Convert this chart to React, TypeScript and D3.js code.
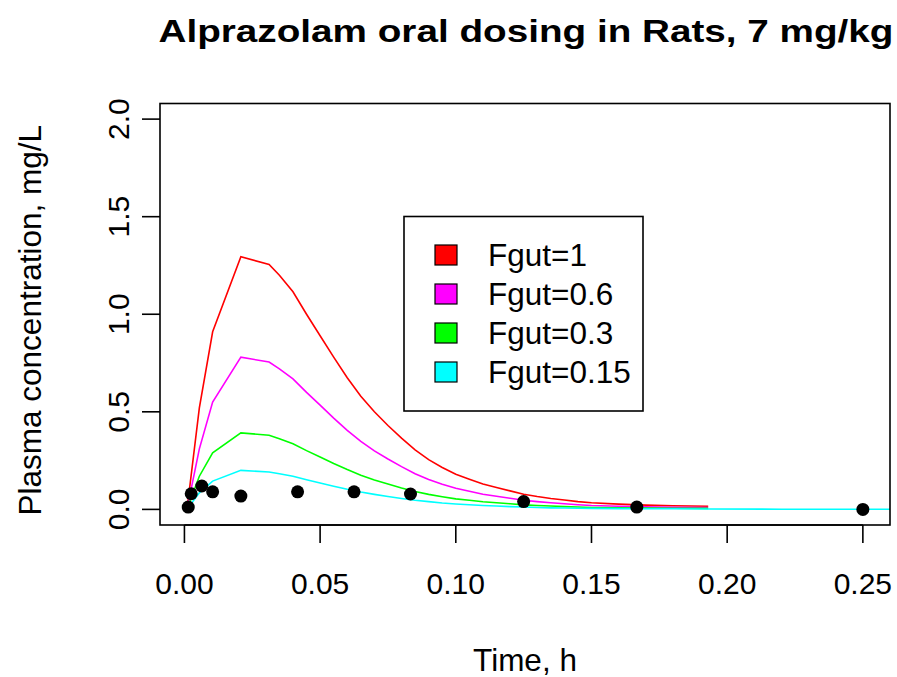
import React from "react";
import * as d3 from "d3";

const times = [0.001, 0.0055, 0.0104, 0.0208, 0.0312, 0.035, 0.04, 0.045, 0.05, 0.055, 0.06, 0.065, 0.07, 0.075, 0.08, 0.085, 0.09, 0.095, 0.10, 0.105, 0.11, 0.115, 0.12, 0.125, 0.13, 0.135, 0.14, 0.145, 0.15, 0.16, 0.17, 0.18, 0.193];
const fgut1 = [0.005, 0.52, 0.91, 1.295, 1.255, 1.2, 1.115, 1.0, 0.89, 0.78, 0.675, 0.58, 0.50, 0.43, 0.365, 0.305, 0.255, 0.215, 0.18, 0.155, 0.13, 0.112, 0.095, 0.078, 0.066, 0.056, 0.048, 0.040, 0.034, 0.027, 0.022, 0.019, 0.016];
const fgut06 = [0.004, 0.31, 0.55, 0.78, 0.755, 0.72, 0.669, 0.6, 0.534, 0.468, 0.405, 0.348, 0.30, 0.258, 0.219, 0.183, 0.153, 0.129, 0.108, 0.093, 0.078, 0.067, 0.057, 0.047, 0.040, 0.034, 0.029, 0.024, 0.020, 0.016, 0.013, 0.011, 0.010];
const fgut03 = [0.003, 0.17, 0.29, 0.392, 0.38, 0.362, 0.336, 0.301, 0.268, 0.235, 0.204, 0.175, 0.151, 0.13, 0.11, 0.092, 0.077, 0.065, 0.054, 0.047, 0.039, 0.034, 0.029, 0.023, 0.020, 0.017, 0.014, 0.012, 0.010, 0.008, 0.007, 0.006, 0.005];
const timesCyan = [...times, 0.22, 0.25, 0.275];
const fgut015 = [0.002, 0.085, 0.145, 0.2, 0.192, 0.183, 0.17, 0.152, 0.135, 0.119, 0.103, 0.089, 0.077, 0.066, 0.056, 0.047, 0.04, 0.033, 0.028, 0.024, 0.02, 0.017, 0.014, 0.012, 0.010, 0.008, 0.007, 0.006, 0.005, 0.004, 0.003, 0.003, 0.002, 0.001, 0.001, 0.001];

const obsTime = [0.0014, 0.0025, 0.0064, 0.0104, 0.0208, 0.0417, 0.0625, 0.0833, 0.125, 0.1667, 0.25];
const obsConc = [0.012, 0.08, 0.12, 0.09, 0.068, 0.09, 0.09, 0.079, 0.04, 0.012, 0.0];

const legendLabels = ["Fgut=1", "Fgut=0.6", "Fgut=0.3", "Fgut=0.15"];
const colors = ["#ff0000", "#ff00ff", "#00ff00", "#00ffff"];
const xTicks = [0, 0.05, 0.1, 0.15, 0.2, 0.25];
const yTicks = [0, 0.5, 1, 1.5, 2];

const W = 897, H = 677;
const left = 160, right = 890, top = 103.5, bottom = 525;
const FONT = "'Liberation Sans', Arial, sans-serif";

export default function App() {
  const x = d3.scaleLinear().domain([-0.009, 0.26]).range([left, right]);
  const y = d3.scaleLinear().domain([-0.08, 2.08]).range([bottom, top]);
  const series = [
    { t: times, v: fgut1 },
    { t: times, v: fgut06 },
    { t: times, v: fgut03 },
    { t: timesCyan, v: fgut015 },
  ];
  const line = d3.line<[number, number]>().x(d => x(d[0])).y(d => y(d[1]));
  const legX = 404, legY = 216.5, legW = 239, legH = 194.5;
  return (
    <svg width={W} height={H} style={{ position: "absolute", left: 0, top: 0, background: "#fff" }}>
      <rect x={0} y={0} width={W} height={H} fill="#fff" />
      <text x={(left + right) / 2 + 1} y={42} textAnchor="middle" fontFamily={FONT} fontWeight="bold" fontSize={31.5} textLength={735} lengthAdjust="spacingAndGlyphs">Alprazolam oral dosing in Rats, 7 mg/kg</text>
      <defs>
        <clipPath id="plotclip"><rect x={left} y={top} width={right - left} height={bottom - top} /></clipPath>
      </defs>
      <g clipPath="url(#plotclip)">
        {series.map((s, i) => (
          <path key={i} d={line(s.t.map((t, j) => [t, s.v[j]]) as [number, number][]) || ""} fill="none" stroke={colors[i]} strokeWidth={1.6} />
        ))}
        {obsTime.map((t, i) => (
          <circle key={i} cx={x(t)} cy={y(obsConc[i])} r={6.5} fill="#000" />
        ))}
      </g>
      <rect x={left} y={top} width={right - left} height={bottom - top} fill="none" stroke="#000" strokeWidth={1.6} />
      {xTicks.map((t, i) => (
        <g key={i}>
          <line x1={x(t)} x2={x(t)} y1={bottom} y2={bottom + 18} stroke="#000" strokeWidth={1.6} />
          <text x={x(t)} y={594} textAnchor="middle" fontFamily={FONT} fontSize={30}>{t.toFixed(2)}</text>
        </g>
      ))}
      <line x1={x(0)} x2={x(0.25)} y1={bottom} y2={bottom} stroke="#000" strokeWidth={1.6} />
      {yTicks.map((v, i) => (
        <g key={i}>
          <line x1={left - 18} x2={left} y1={y(v)} y2={y(v)} stroke="#000" strokeWidth={1.6} />
          <text transform={`translate(129,${y(v)}) rotate(-90)`} textAnchor="middle" fontFamily={FONT} fontSize={30}>{v.toFixed(1)}</text>
        </g>
      ))}
      <text x={(left + right) / 2} y={671} textAnchor="middle" fontFamily={FONT} fontSize={31.5}>Time, h</text>
      <text transform={`translate(41,${(top + bottom) / 2 + 6}) rotate(-90)`} textAnchor="middle" fontFamily={FONT} fontSize={31.5}>Plasma concentration, mg/L</text>
      <rect x={legX} y={legY} width={legW} height={legH} fill="#fff" stroke="#000" strokeWidth={1.6} />
      {legendLabels.map((lab, i) => (
        <g key={i}>
          <rect x={435} y={245 + i * 39} width={22} height={20} fill={colors[i]} stroke="#000" strokeWidth={1.2} />
          <text x={488} y={266 + i * 39} fontFamily={FONT} fontSize={31.5}>{lab}</text>
        </g>
      ))}
    </svg>
  );
}
